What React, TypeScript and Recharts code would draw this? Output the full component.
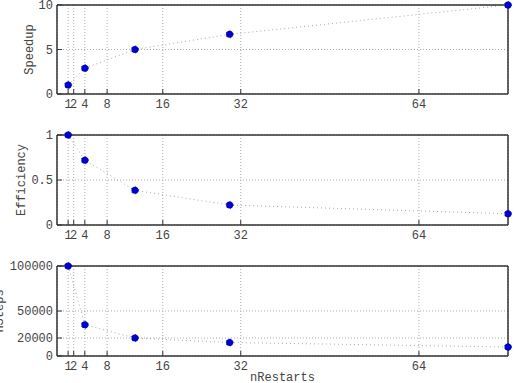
import React from "react";
import {
  LineChart,
  Line,
  XAxis,
  YAxis,
  CartesianGrid,
  ReferenceArea,
} from "recharts";

const nRestarts = [1, 4, 13, 30, 80];
const speedup = [1, 2.9, 5.0, 6.7, 10];
const efficiency = [1, 0.72, 0.385, 0.222, 0.125];
const nSteps = [100000, 34700, 20000, 15000, 10000];

const xTicks = [1, 2, 4, 8, 18, 32, 64];
const xTickLabels = ["1", "2", "4", "8", "16", "32", "64"];

const speedupTicks = [0, 5, 10];
const efficiencyTicks = [0, 0.5, 1];
const nStepsTicks = [0, 20000, 50000, 100000];

const chartData = nRestarts.map((n, i) => ({
  n,
  speedup: speedup[i],
  efficiency: efficiency[i],
  nSteps: nSteps[i],
}));

const FONT = "'Liberation Mono', 'DejaVu Sans Mono', monospace";
const tickStyle = { fontFamily: FONT, fontSize: 12, fill: "#444" };
const AXIS = "#333";
const X_MIN = -1;
const X_MAX = 80;

const yLabel = (text: string, x: number) => (props: any) => {
  const vb = props.viewBox || {};
  const cy = (vb.y ?? 0) + (vb.height ?? 0) / 2;
  return (
    <text
      x={x}
      y={cy}
      transform={`rotate(-90 ${x} ${cy})`}
      textAnchor="middle"
      fontFamily={FONT}
      fontSize={12}
      fill="#444"
    >
      {text}
    </text>
  );
};

function Panel({
  dataKey,
  yTicks,
  yMax,
  label,
  labelX,
  height,
  marginTop,
  xAxisHeight,
  xLabel,
}: {
  dataKey: string;
  yTicks: number[];
  yMax: number;
  label: string;
  labelX: number;
  height: number;
  marginTop: number;
  xAxisHeight: number;
  xLabel?: string;
}) {
  return (
    <LineChart
      width={514}
      height={height}
      data={chartData}
      margin={{ top: marginTop - 1, right: 5, bottom: 0, left: 0 }}
      style={{ overflow: "visible" }}
    >
      <CartesianGrid stroke="#aaa" strokeDasharray="1 2" />
      <XAxis
        dataKey="n"
        type="number"
        domain={[X_MIN, X_MAX]}
        ticks={xTicks}
        tickFormatter={(v: number) => xTickLabels[xTicks.indexOf(v)] ?? String(v)}
        interval={0}
        height={xAxisHeight}
        tickSize={-5}
        tickMargin={10}
        tick={tickStyle}
        stroke={AXIS}
        label={
          xLabel
            ? {
                value: xLabel,
                position: "insideBottom",
                offset: 2,
                style: { fontFamily: FONT, fontSize: 12, fill: "#444" },
              }
            : undefined
        }
      />
      <XAxis
        xAxisId="top"
        dataKey="n"
        orientation="top"
        type="number"
        domain={[X_MIN, X_MAX]}
        allowDataOverflow
        ticks={xTicks}
        interval={0}
        height={1}
        tickSize={-5}
        tick={false}
        stroke={AXIS}
      />
      <YAxis
        type="number"
        domain={[0, yMax]}
        ticks={yTicks}
        interval={0}
        width={57}
        tickSize={-5}
        tickMargin={9}
        tick={tickStyle}
        stroke={AXIS}
        label={yLabel(label, labelX)}
      />
      <YAxis
        yAxisId="right"
        orientation="right"
        type="number"
        domain={[0, yMax]}
        allowDataOverflow
        ticks={yTicks}
        interval={0}
        width={1}
        tickSize={-5}
        tick={false}
        stroke={AXIS}
      />
      <ReferenceArea
        x1={X_MIN}
        x2={X_MAX}
        y1={0}
        y2={yMax}
        fill="none"
        fillOpacity={0}
        stroke={AXIS}
        strokeWidth={1}
        ifOverflow="visible"
      />
      <Line
        xAxisId="top"
        yAxisId="right"
        dataKey={dataKey}
        stroke="none"
        dot={false}
        activeDot={false}
        legendType="none"
        isAnimationActive={false}
      />
      <Line
        dataKey={dataKey}
        type="linear"
        stroke="#aaa"
        strokeWidth={1}
        strokeDasharray="1 3"
        dot={{ r: 3.5, fill: "#0000c8", stroke: "#0000c8", strokeWidth: 1 }}
        activeDot={false}
        isAnimationActive={false}
      />
    </LineChart>
  );
}

export default function App() {
  return (
    <div
      style={{
        position: "absolute",
        left: 0,
        top: 0,
        width: 514,
        height: 383,
        background: "#fff",
      }}
    >
      <div style={{ position: "absolute", left: 0, top: 0 }}>
        <Panel
          dataKey="speedup"
          yTicks={speedupTicks}
          yMax={10}
          label="Speedup"
          labelX={33}
          height={110}
          marginTop={5}
          xAxisHeight={16}
        />
      </div>
      <div style={{ position: "absolute", left: 0, top: 120 }}>
        <Panel
          dataKey="efficiency"
          yTicks={efficiencyTicks}
          yMax={1}
          label="Efficiency"
          labelX={25}
          height={120}
          marginTop={15}
          xAxisHeight={15}
        />
      </div>
      <div style={{ position: "absolute", left: 0, top: 250 }}>
        <Panel
          dataKey="nSteps"
          yTicks={nStepsTicks}
          yMax={100000}
          label="nSteps"
          labelX={3}
          height={133}
          marginTop={16}
          xAxisHeight={27}
          xLabel="nRestarts"
        />
      </div>
    </div>
  );
}
